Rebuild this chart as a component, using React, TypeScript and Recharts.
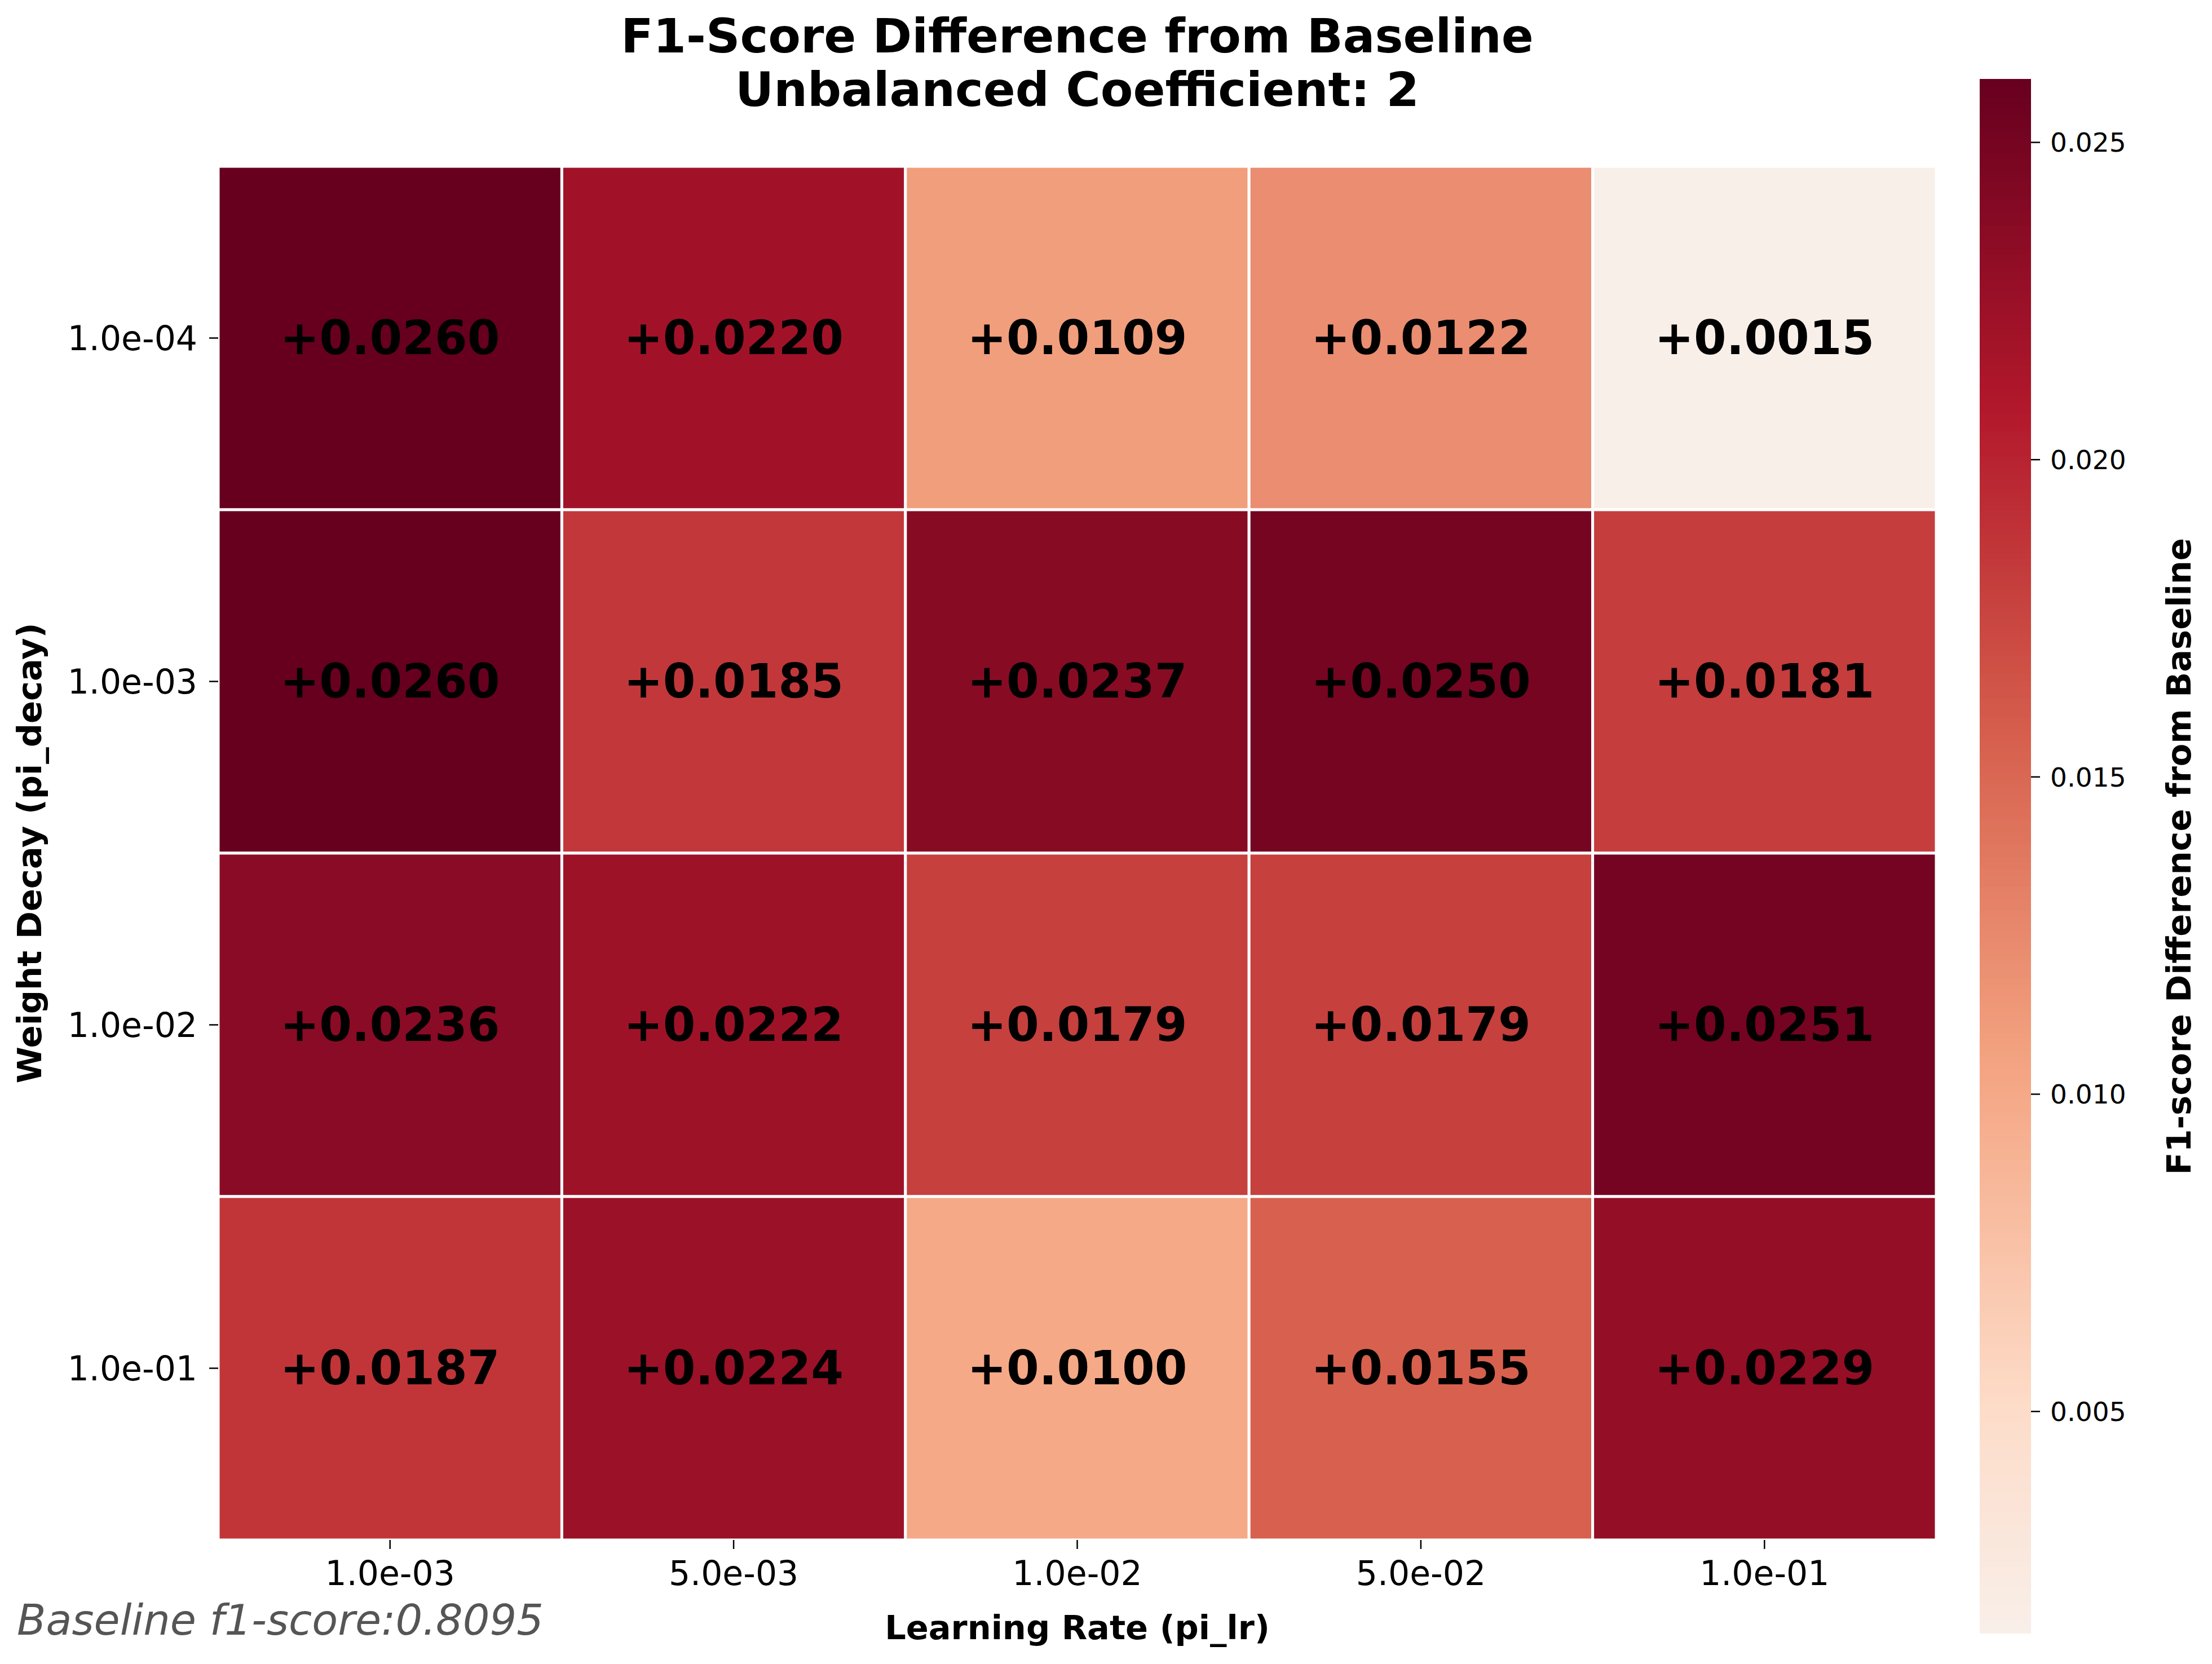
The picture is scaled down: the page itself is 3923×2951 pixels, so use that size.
import React from "react";
import { Scatter, ScatterChart, XAxis, YAxis } from "recharts";

// axis categories
const learningRates = ["1.0e-03", "5.0e-03", "1.0e-02", "5.0e-02", "1.0e-01"];
const weightDecays = ["1.0e-04", "1.0e-03", "1.0e-02", "1.0e-01"];

// F1 difference per weight decay row (columns follow learningRates)
const diffWd1e4 = [0.026, 0.022, 0.0109, 0.0122, 0.0015];
const diffWd1e3 = [0.026, 0.0185, 0.0237, 0.025, 0.0181];
const diffWd1e2 = [0.0236, 0.0222, 0.0179, 0.0179, 0.0251];
const diffWd1e1 = [0.0187, 0.0224, 0.01, 0.0155, 0.0229];
const diffRows = [diffWd1e4, diffWd1e3, diffWd1e2, diffWd1e1];

const colorbarTicks = [0.005, 0.01, 0.015, 0.02, 0.025];
const baselineF1 = 0.8095;

const FONT = "DejaVu Sans";
const W = 3923;
const H = 2951;
const PLOT = { left: 387, right: 3434, top: 295, bottom: 2731 };
const cellW = (PLOT.right - PLOT.left) / learningRates.length;
const cellH = (PLOT.bottom - PLOT.top) / weightDecays.length;
const midX = (PLOT.left + PLOT.right) / 2;
const midY = (PLOT.top + PLOT.bottom) / 2;

const CBAR = { left: 3511, width: 91, top: 140, bottom: 2897 };

const allValues = diffRows.flat();
const vmin = Math.min(...allValues);
const vmax = Math.max(...allValues);

// upper half of RdBu_r, seaborn-style centered at 0
const rdbuR = ["#f7f7f7", "#fddbc7", "#f4a582", "#d6604d", "#b2182b", "#67001f"];

function hexToRgb(h: string) {
  return [1, 3, 5].map((i) => parseInt(h.slice(i, i + 2), 16));
}

function colorFor(v: number): string {
  const range = Math.max(Math.abs(vmax), Math.abs(vmin));
  const t = 0.5 + v / (2 * range); // 0.5..1
  const pos = Math.min(Math.max((t - 0.5) / 0.5, 0), 1) * (rdbuR.length - 1);
  const i = Math.min(Math.floor(pos), rdbuR.length - 2);
  const f = pos - i;
  const a = hexToRgb(rdbuR[i]);
  const b = hexToRgb(rdbuR[i + 1]);
  const c = a.map((x, k) => Math.round(x + (b[k] - x) * f));
  return `rgb(${c[0]},${c[1]},${c[2]})`;
}

const cells = diffRows.flatMap((row, r) => row.map((v, c) => ({ x: c, y: r, v })));

// colorbar bands sampled across the value range
const BANDS = 256;
const bandStep = (vmax - vmin) / BANDS;
const bands = Array.from({ length: BANDS }, (_, i) => ({ x: 0.5, y: vmin + (i + 0.5) * bandStep }));
const bandH = (CBAR.bottom - CBAR.top) / BANDS;

function HeatCell(props: any) {
  const { cx, cy, payload } = props;
  if (cx == null || cy == null) return null;
  return (
    <g>
      <rect
        x={cx - cellW / 2}
        y={cy - cellH / 2}
        width={cellW}
        height={cellH}
        fill={colorFor(payload.v)}
        stroke="#ffffff"
        strokeWidth={5}
      />
      <text
        x={cx}
        y={cy}
        textAnchor="middle"
        dominantBaseline="central"
        fontFamily={FONT}
        fontWeight="bold"
        fontSize={83}
        fill="#000"
      >
        {`+${payload.v.toFixed(4)}`}
      </text>
    </g>
  );
}

function Band(props: any) {
  const { cx, cy, payload } = props;
  if (cx == null || cy == null) return null;
  return (
    <rect
      x={cx - CBAR.width / 2}
      y={cy - bandH / 2 - 0.6}
      width={CBAR.width}
      height={bandH + 1.2}
      fill={colorFor(payload.y)}
    />
  );
}

export default function App() {
  return (
    <div style={{ position: "absolute", left: 0, top: 0, width: W, height: H, background: "#fff" }}>
      <ScatterChart
        width={W}
        height={H}
        margin={{ top: PLOT.top, right: W - PLOT.right, bottom: 0, left: 0 }}
      >
        <XAxis
          type="number"
          dataKey="x"
          domain={[-0.5, learningRates.length - 0.5]}
          ticks={learningRates.map((_, i) => i)}
          tickFormatter={(i) => learningRates[i]}
          interval={0}
          height={H - PLOT.bottom}
          tickSize={16}
          tickMargin={21}
          axisLine={false}
          tickLine={{ stroke: "#000", strokeWidth: 2.5 }}
          tick={{ fontSize: 60, fill: "#000", fontFamily: FONT }}
          allowDataOverflow
        />
        <YAxis
          type="number"
          dataKey="y"
          domain={[-0.5, weightDecays.length - 0.5]}
          reversed
          ticks={weightDecays.map((_, i) => i)}
          tickFormatter={(i) => weightDecays[i]}
          interval={0}
          width={PLOT.left}
          tickSize={16}
          tickMargin={21}
          axisLine={false}
          tickLine={{ stroke: "#000", strokeWidth: 2.5 }}
          tick={{ fontSize: 60, fill: "#000", fontFamily: FONT }}
          allowDataOverflow
        />
        <Scatter data={cells} shape={<HeatCell />} isAnimationActive={false} />
      </ScatterChart>

      <div style={{ position: "absolute", left: CBAR.left, top: 0 }}>
        <ScatterChart
          width={W - CBAR.left}
          height={H}
          margin={{ top: CBAR.top, right: 0, bottom: H - CBAR.bottom, left: 0 }}
        >
          <XAxis type="number" dataKey="x" domain={[0, 1]} hide />
          <YAxis
            type="number"
            dataKey="y"
            orientation="right"
            domain={[vmin, vmax]}
            ticks={colorbarTicks}
            tickFormatter={(v) => v.toFixed(3)}
            interval={0}
            width={W - CBAR.left - CBAR.width}
            tickSize={16}
            tickMargin={18}
            axisLine={false}
            tickLine={{ stroke: "#000", strokeWidth: 2.5 }}
            tick={{ fontSize: 47, fill: "#000", fontFamily: FONT }}
            allowDataOverflow
          />
          <Scatter data={bands} shape={<Band />} isAnimationActive={false} />
        </ScatterChart>
      </div>

      <svg
        width={W}
        height={H}
        style={{ position: "absolute", left: 0, top: 0, pointerEvents: "none" }}
        fontFamily={FONT}
      >
        <text x={midX} y={93} textAnchor="middle" fontSize={84} fontWeight="bold" fill="#000">
          F1-Score Difference from Baseline
        </text>
        <text x={midX} y={188} textAnchor="middle" fontSize={84} fontWeight="bold" fill="#000">
          Unbalanced Coefficient: 2
        </text>
        <text x={midX} y={2907} textAnchor="middle" fontSize={59} fontWeight="bold" fill="#000">
          Learning Rate (pi_lr)
        </text>
        <text
          x={73}
          y={midY}
          textAnchor="middle"
          fontSize={59}
          fontWeight="bold"
          fill="#000"
          transform={`rotate(-90 73 ${midY})`}
        >
          Weight Decay (pi_decay)
        </text>
        <text
          x={3885}
          y={1519}
          textAnchor="middle"
          fontSize={59}
          fontWeight="bold"
          fill="#000"
          transform="rotate(-90 3885 1519)"
        >
          F1-score Difference from Baseline
        </text>
        <text x={30} y={2899} fontSize={75} fontStyle="italic" fill="#555">
          {`Baseline f1-score:${baselineF1.toFixed(4)}`}
        </text>
      </svg>
    </div>
  );
}
